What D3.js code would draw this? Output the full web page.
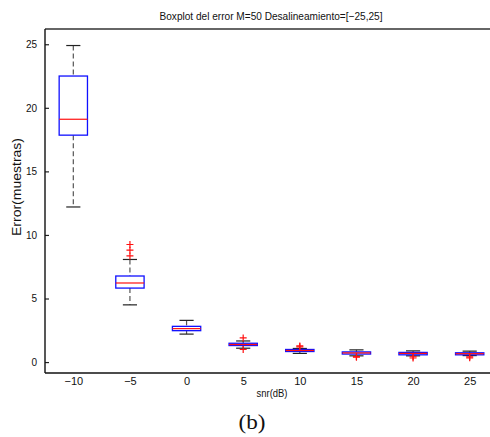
<!DOCTYPE html>
<html>
<head>
<meta charset="utf-8">
<script src="https://cdn.jsdelivr.net/npm/d3@7"></script>
<style>
  body { margin: 0; background: #fff; }
  svg { display: block; }
  text { font-family: "Liberation Sans", Arial, sans-serif; fill: #111; }
</style>
</head>
<body>
<div id="chart"></div>
<script>
// valores
var snr = [-10, -5, 0, 5, 10, 15, 20, 25];
var whiskLo = [12.2, 4.5, 2.2, 1.09, 0.68, 0.49, 0.49, 0.51];
var q1 = [17.85, 5.82, 2.47, 1.30, 0.83, 0.63, 0.57, 0.57];
var med = [19.1, 6.22, 2.63, 1.38, 0.91, 0.72, 0.68, 0.66];
var q3 = [22.5, 6.77, 2.81, 1.48, 0.99, 0.80, 0.76, 0.73];
var whiskHi = [24.9, 8.07, 3.28, 1.66, 1.07, 0.96, 0.88, 0.86];
var outliers = [[], [9.25, 8.8, 8.35], [], [1.9, 0.99], [1.27, 1.2], [0.43, 0.38], [0.42, 0.32], [0.42, 0.33]];
var yTicks = [0, 5, 10, 15, 20, 25];

var W = 490, H = 437;
var pLeft = 45, pRight = 498, pTop = 29, pBottom = 373;

var svg = d3.select("#chart").append("svg")
    .attr("width", W)
    .attr("height", H);

var x = d3.scaleLinear().domain([0.5, snr.length + 0.5]).range([pLeft, pRight]);
var y = d3.scaleLinear().domain([-0.86, 26.2]).range([pBottom, pTop]);
var step = x(2) - x(1);
var boxW = step * 0.5, capW = step * 0.25;

// ejes
var yAxis = d3.axisLeft(y).tickValues(yTicks).tickSizeInner(-4).tickSizeOuter(0).tickPadding(8);
var gy = svg.append("g").attr("transform", "translate(" + pLeft + ",0)").call(yAxis);
gy.select(".domain").remove();
gy.selectAll("line").attr("stroke", "#222").attr("stroke-width", 1.2);
gy.selectAll("text").style("font-size", "10px").attr("fill", "#111");

var xAxis = d3.axisBottom(x).tickValues(d3.range(1, snr.length + 1))
    .tickFormat(function(d){ var v = snr[d-1]; return v < 0 ? "\u2212" + Math.abs(v) : v; })
    .tickSize(0).tickPadding(4);
var gx = svg.append("g").attr("transform", "translate(0," + pBottom + ")").call(xAxis);
gx.select(".domain").remove();
gx.selectAll("text").style("font-size", "11px").attr("fill", "#111");

// marco
svg.append("line").attr("x1", pLeft).attr("x2", W).attr("y1", pTop).attr("y2", pTop)
    .attr("stroke", "#333").attr("stroke-width", 1.4);
svg.append("line").attr("x1", pLeft).attr("x2", W).attr("y1", pBottom).attr("y2", pBottom)
    .attr("stroke", "#111").attr("stroke-width", 1.4);
svg.append("line").attr("x1", pLeft).attr("x2", pLeft).attr("y1", pTop).attr("y2", pBottom)
    .attr("stroke", "#111").attr("stroke-width", 1.4);

// cajas
var g = svg.selectAll("g.box").data(snr).enter().append("g").attr("class", "box");

g.each(function(d, i){
  var s = d3.select(this), cx = x(i + 1);
  // bigotes
  s.append("line").attr("x1", cx).attr("x2", cx).attr("y1", y(whiskHi[i])).attr("y2", y(q3[i]))
    .attr("stroke", "#555").attr("stroke-width", 1.2).attr("stroke-dasharray", "5,3");
  s.append("line").attr("x1", cx).attr("x2", cx).attr("y1", y(q1[i])).attr("y2", y(whiskLo[i]))
    .attr("stroke", "#555").attr("stroke-width", 1.2).attr("stroke-dasharray", "5,3");
  s.append("line").attr("x1", cx - capW/2).attr("x2", cx + capW/2).attr("y1", y(whiskHi[i])).attr("y2", y(whiskHi[i]))
    .attr("stroke", "#222").attr("stroke-width", 1.2);
  s.append("line").attr("x1", cx - capW/2).attr("x2", cx + capW/2).attr("y1", y(whiskLo[i])).attr("y2", y(whiskLo[i]))
    .attr("stroke", "#222").attr("stroke-width", 1.2);
  // caja
  s.append("rect").attr("x", cx - boxW/2).attr("y", y(q3[i])).attr("width", boxW)
    .attr("height", Math.max(y(q1[i]) - y(q3[i]), 0.5))
    .attr("fill", "none").attr("stroke", "#1010ff").attr("stroke-width", 1.3);
  s.append("line").attr("x1", cx - boxW/2).attr("x2", cx + boxW/2).attr("y1", y(med[i])).attr("y2", y(med[i]))
    .attr("stroke", "#ff1010").attr("stroke-width", 1.2);
  // atipicos
  outliers[i].forEach(function(o){
    s.append("path").attr("d", "M" + (cx - 3.5) + "," + y(o) + "h7M" + cx + "," + (y(o) - 3.5) + "v7")
      .attr("stroke", "#ff1010").attr("stroke-width", 1.2).attr("fill", "none");
  });
});

// textos
svg.append("text").attr("x", 271).attr("y", 20).attr("text-anchor", "middle")
  .style("font-size", "11px").attr("textLength", 223).attr("lengthAdjust", "spacingAndGlyphs")
  .text("Boxplot del error M=50 Desalineamiento=[\u221225,25]");
svg.append("text").attr("transform", "translate(21,187) rotate(-90)").attr("text-anchor", "middle")
  .style("font-size", "13px").attr("textLength", 98).attr("lengthAdjust", "spacingAndGlyphs")
  .text("Error(muestras)");
svg.append("text").attr("x", 272).attr("y", 397).attr("text-anchor", "middle")
  .style("font-size", "11px").attr("textLength", 31).attr("lengthAdjust", "spacingAndGlyphs")
  .text("snr(dB)");
svg.append("text").attr("x", 252).attr("y", 429).attr("text-anchor", "middle")
  .style("font-family", "'Liberation Serif', 'DejaVu Serif', serif").style("font-size", "20px")
  .attr("textLength", 27).attr("lengthAdjust", "spacingAndGlyphs")
  .text("(b)");
</script>
</body>
</html>
